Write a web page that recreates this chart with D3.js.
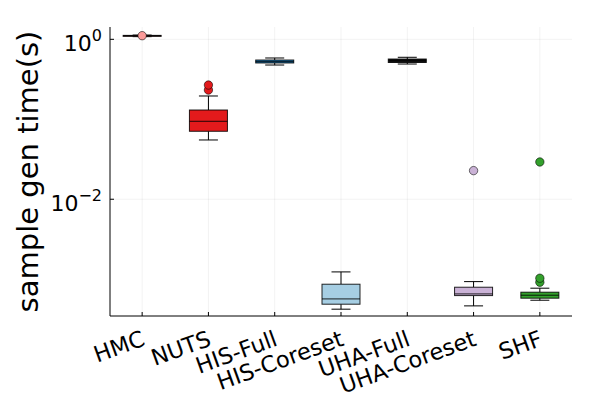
<!DOCTYPE html>
<html>
<head>
<meta charset="utf-8">
<script src="https://cdn.jsdelivr.net/npm/d3@7"></script>
<style>
  body { margin: 0; background: #fff; }
  text { font-family: "DejaVu Sans", sans-serif; fill: #000; }
</style>
</head>
<body>
<svg id="chart" width="600" height="400"></svg>
<script>
// categories and box stats (seconds)
var categories = ["HMC", "NUTS", "HIS-Full", "HIS-Coreset", "UHA-Full", "UHA-Coreset", "SHF"];
var colors = ["#fb9a99", "#e31a1c", "#1f78b4", "#a6cee3", "#111111", "#cab2d6", "#33a02c"];
var whiskerLow = [1.08, 0.0551, 0.477, 0.000422, 0.491, 0.000464, 0.000546];
var q1 = [1.10, 0.0708, 0.506, 0.000487, 0.513, 0.000624, 0.000579];
var median = [1.11, 0.0944, 0.525, 0.000567, 0.540, 0.000655, 0.000631];
var q3 = [1.12, 0.1306, 0.551, 0.000866, 0.567, 0.000794, 0.000688];
var whiskerHigh = [1.13, 0.1955, 0.584, 0.001234, 0.596, 0.000933, 0.000772];
var outliers = [[1.11], [0.232, 0.268], [], [], [], [0.0228], [0.000917, 0.001029, 0.02925]];
var yTicks = [0, -2]; // powers of ten

var svg = d3.select("#chart");
var plotLeft = 110, plotRight = 572, plotTop = 27, plotBottom = 316;
var boxW = 38;

var x = d3.scalePoint()
    .domain(categories)
    .range([plotLeft, plotRight])
    .padding(0.485);

var y = d3.scaleLog()
    .domain([Math.pow(10, -3.46), Math.pow(10, 0.154)])
    .range([plotBottom, plotTop]);

// grid
var grid = svg.append("g").attr("stroke", "#000").attr("stroke-opacity", 0.1).attr("stroke-width", 0.5);
grid.selectAll("line.gx").data(categories).enter().append("line")
    .attr("x1", function(d) { return x(d); }).attr("x2", function(d) { return x(d); })
    .attr("y1", plotTop).attr("y2", plotBottom);
grid.selectAll("line.gy").data(yTicks).enter().append("line")
    .attr("x1", plotLeft).attr("x2", plotRight)
    .attr("y1", function(d) { return y(Math.pow(10, d)); })
    .attr("y2", function(d) { return y(Math.pow(10, d)); });

// boxes
var data = categories.map(function(c, i) {
  return { name: c, color: colors[i], lo: whiskerLow[i], q1: q1[i], med: median[i], q3: q3[i], hi: whiskerHigh[i], out: outliers[i] };
});

var box = svg.selectAll("g.box").data(data).enter().append("g")
    .attr("transform", function(d) { return "translate(" + x(d.name) + ",0)"; });

box.append("line")
    .attr("y1", function(d) { return y(d.hi); }).attr("y2", function(d) { return y(d.q3); })
    .attr("stroke", "#000").attr("stroke-width", 1);
box.append("line")
    .attr("y1", function(d) { return y(d.q1); }).attr("y2", function(d) { return y(d.lo); })
    .attr("stroke", "#000").attr("stroke-width", 1);
box.append("line")
    .attr("x1", -boxW / 4).attr("x2", boxW / 4)
    .attr("y1", function(d) { return y(d.hi); }).attr("y2", function(d) { return y(d.hi); })
    .attr("stroke", "#000").attr("stroke-width", 1);
box.append("line")
    .attr("x1", -boxW / 4).attr("x2", boxW / 4)
    .attr("y1", function(d) { return y(d.lo); }).attr("y2", function(d) { return y(d.lo); })
    .attr("stroke", "#000").attr("stroke-width", 1);
box.append("rect")
    .attr("x", -boxW / 2).attr("width", boxW)
    .attr("y", function(d) { return y(d.q3); })
    .attr("height", function(d) { return Math.max(1, y(d.q1) - y(d.q3)); })
    .attr("fill", function(d) { return d.color; })
    .attr("stroke", "#000").attr("stroke-opacity", 0.85).attr("stroke-width", 1);
box.append("line")
    .attr("x1", -boxW / 2).attr("x2", boxW / 2)
    .attr("y1", function(d) { return y(d.med); }).attr("y2", function(d) { return y(d.med); })
    .attr("stroke", "#000").attr("stroke-opacity", 0.85).attr("stroke-width", 1);

box.selectAll("circle").data(function(d) { return d.out.map(function(v) { return { v: v, color: d.color }; }); })
  .enter().append("circle")
    .attr("cx", 0)
    .attr("cy", function(d) { return y(d.v); })
    .attr("r", 4.2)
    .attr("fill", function(d) { return d.color; })
    .attr("stroke", "#000").attr("stroke-opacity", 0.7).attr("stroke-width", 0.8);

// axes
var xAxis = svg.append("g").attr("transform", "translate(0," + plotBottom + ")");
xAxis.append("line").attr("x1", plotLeft).attr("x2", plotRight).attr("stroke", "#000");
xAxis.selectAll("line.t").data(categories).enter().append("line")
    .attr("x1", function(d) { return x(d); }).attr("x2", function(d) { return x(d); })
    .attr("y1", 0).attr("y2", -4).attr("stroke", "#000");
xAxis.selectAll("text").data(categories).enter().append("text")
    .attr("transform", function(d) { return "translate(" + (x(d) + 4) + ",29) rotate(-20)"; })
    .attr("text-anchor", "end")
    .style("font-size", "22.5px")
    .text(function(d) { return d; });

var yAxis = svg.append("g");
yAxis.append("line").attr("x1", plotLeft).attr("x2", plotLeft).attr("y1", plotTop).attr("y2", plotBottom).attr("stroke", "#000");
yAxis.selectAll("line.t").data(yTicks).enter().append("line")
    .attr("x1", plotLeft).attr("x2", plotLeft + 4)
    .attr("y1", function(d) { return y(Math.pow(10, d)); })
    .attr("y2", function(d) { return y(Math.pow(10, d)); })
    .attr("stroke", "#000");
var yt = yAxis.selectAll("text").data(yTicks).enter().append("text")
    .attr("x", 102)
    .attr("y", function(d) { return y(Math.pow(10, d)) + 11.5; })
    .attr("text-anchor", "end")
    .style("font-size", "22px");
yt.append("tspan").text("10");
yt.append("tspan").attr("dy", -10).style("font-size", "16px")
    .text(function(d) { return d < 0 ? "\u2212" + (-d) : String(d); });

svg.append("text")
    .attr("transform", "translate(38," + ((plotTop + plotBottom) / 2) + ") rotate(-90)")
    .attr("text-anchor", "middle")
    .style("font-size", "29px")
    .text("sample gen time(s)");
</script>
</body>
</html>
